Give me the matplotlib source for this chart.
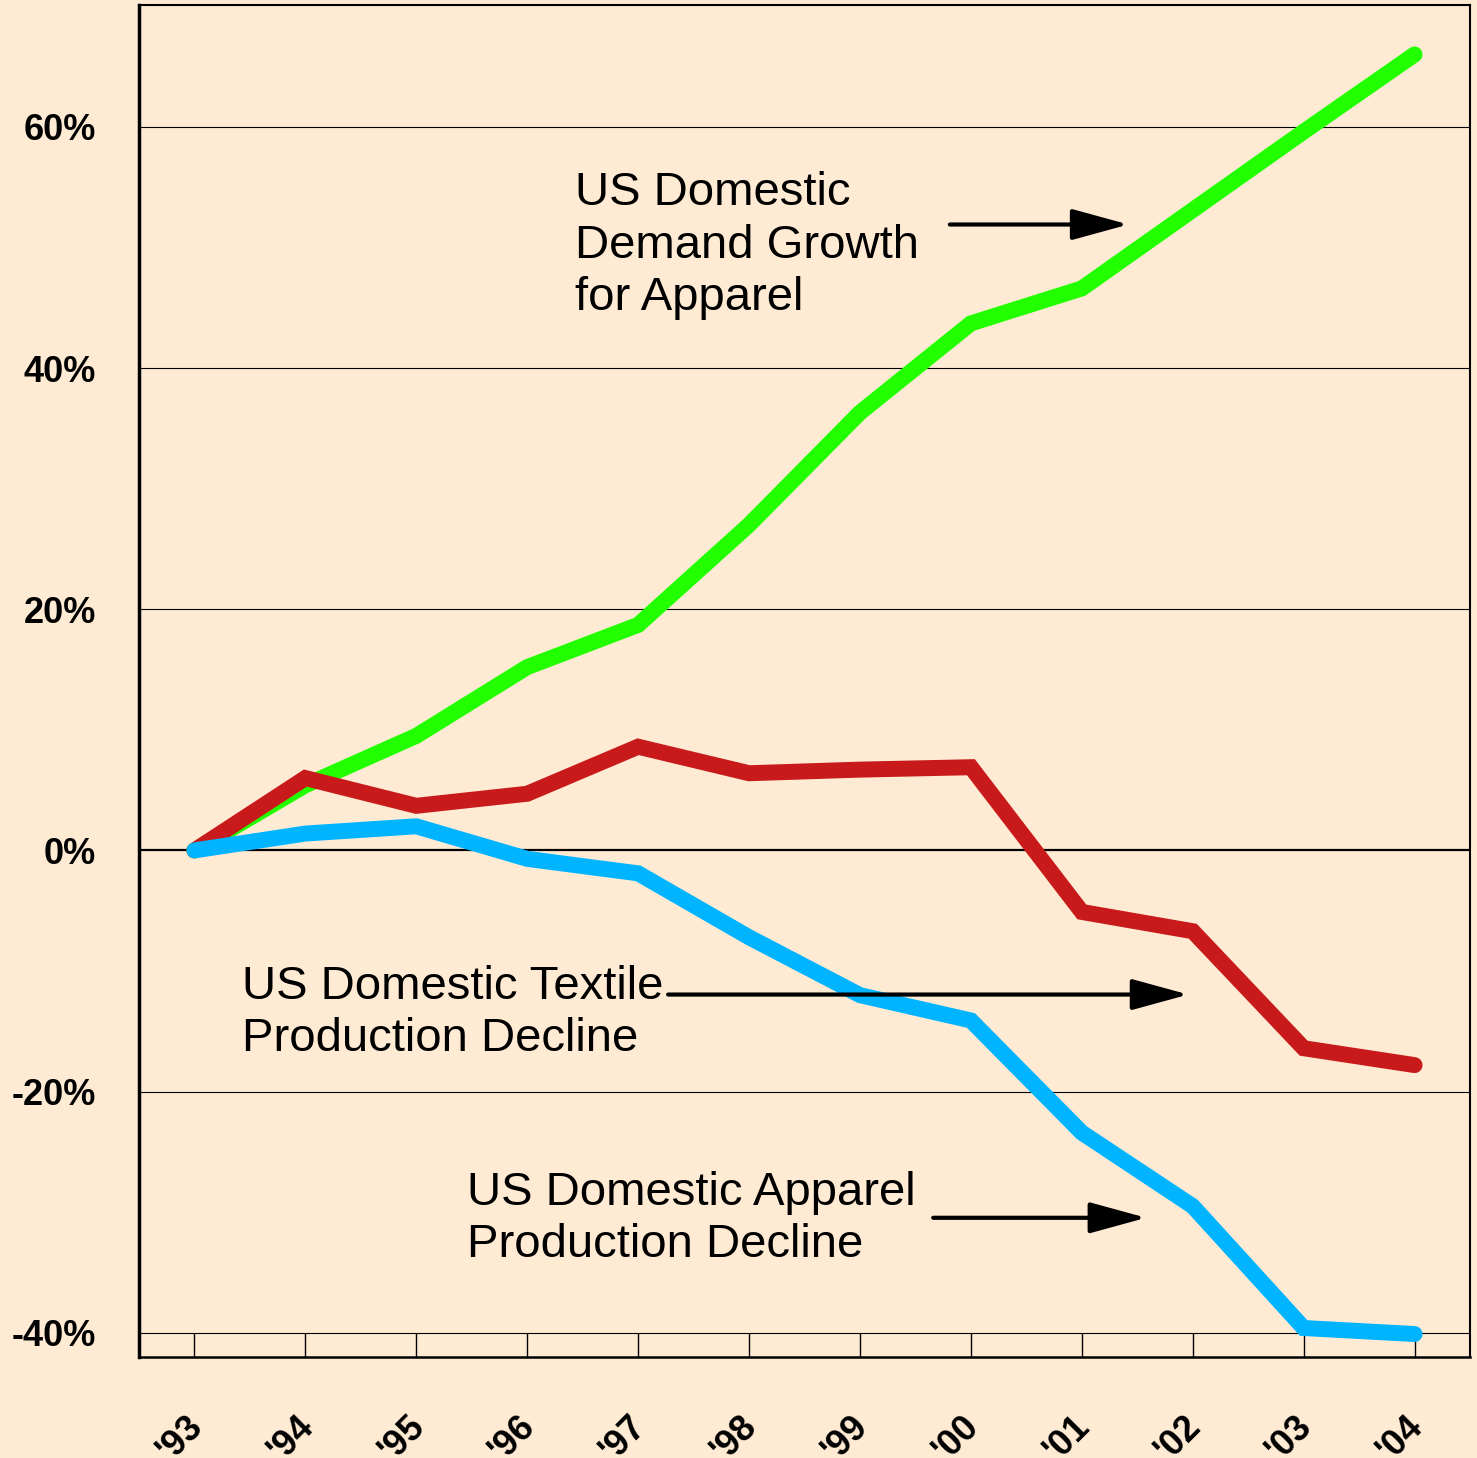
import matplotlib
matplotlib.use("Agg")
import matplotlib.pyplot as plt

years = ["'93", "'94", "'95", "'96", "'97", "'98", "'99", "'00", "'01", "'02", "'03", "'04"]
demand = [0, 5.4, 9.5, 15.2, 18.7, 27.0, 36.3, 43.7, 46.6, 53.1, 59.6, 66.0]
textile = [0, 6.0, 3.7, 4.7, 8.6, 6.4, 6.7, 6.9, -5.1, -6.7, -16.4, -17.8]
apparel = [0, 1.4, 2.0, -0.7, -1.9, -7.2, -12.0, -14.1, -23.4, -29.5, -39.6, -40.1]
yticks = [-40, -20, 0, 20, 40, 60]
ytick_labels = ["-40%", "-20%", "0%", "20%", "40%", "60%"]

bg = "#FFEBD4"
plt.rcParams['font.family'] = ['Liberation Sans', 'DejaVu Sans']

fig = plt.figure(figsize=(14.77, 14.58), dpi=100, facecolor=bg)
ax = fig.add_axes([0.0941, 0.0693, 0.9953 - 0.0941, 0.99657 - 0.0693])
ax.set_facecolor(bg)

x = list(range(len(years)))
lw = 11.5
ax.plot(x, demand, color="#22FF00", lw=lw, solid_capstyle='round', solid_joinstyle='miter', zorder=3)
ax.plot(x, textile, color="#C81A1A", lw=lw, solid_capstyle='round', solid_joinstyle='miter', zorder=4)
ax.plot(x, apparel, color="#00B4FF", lw=lw, solid_capstyle='round', solid_joinstyle='miter', zorder=5)

for v in yticks:
    if v == 0:
        ax.axhline(v, color='black', lw=1.6, zorder=2)
    else:
        ax.axhline(v, color='black', lw=0.8, zorder=2)

ax.set_xlim(-0.5, 11.5)
ax.set_ylim(-42.0, 70.1)
ax.set_xticks(x)
ax.set_xticklabels([])
ax.tick_params(axis='x', direction='in', length=17, width=1.0, color='black')
xt = ax.get_xaxis_transform()
for i, lab in enumerate(years):
    ax.text(i + 0.138, -0.038, lab, transform=xt, rotation=45, ha='right', va='top',
            fontsize=26, fontweight='bold', clip_on=False)

ax.set_yticks(yticks)
ax.set_yticklabels(ytick_labels, fontsize=26, fontweight='bold')
ax.tick_params(axis='y', length=0, pad=31)

for s in ['top', 'right']:
    ax.spines[s].set_linewidth(1.5)
ax.spines['left'].set_linewidth(2.5)
ax.spines['bottom'].set_linewidth(1.8)

fs = 34
ls = 1.25
ax.text(3.43, 56.3, "US Domestic\nDemand Growth\nfor Apparel", fontsize=fs, va='top', ha='left', linespacing=ls, zorder=6)
ax.text(0.433, -9.46, "US Domestic Textile\nProduction Decline", fontsize=fs, va='top', ha='left', linespacing=ls, zorder=6)
ax.text(2.46, -26.56, "US Domestic Apparel\nProduction Decline", fontsize=fs, va='top', ha='left', linespacing=ls, zorder=6)

ap = dict(arrowstyle='-|>,head_length=1.75,head_width=0.48', mutation_scale=20, lw=3, color='black', shrinkA=0, shrinkB=0)
ax.annotate("", xy=(8.42, 51.9), xytext=(6.81, 51.9), arrowprops=ap, zorder=7)
ax.annotate("", xy=(8.96, -11.95), xytext=(4.27, -11.95), arrowprops=ap, zorder=7)
ax.annotate("", xy=(8.58, -30.46), xytext=(6.66, -30.46), arrowprops=ap, zorder=7)

fig.savefig("out.png", dpi=100, facecolor=bg)
